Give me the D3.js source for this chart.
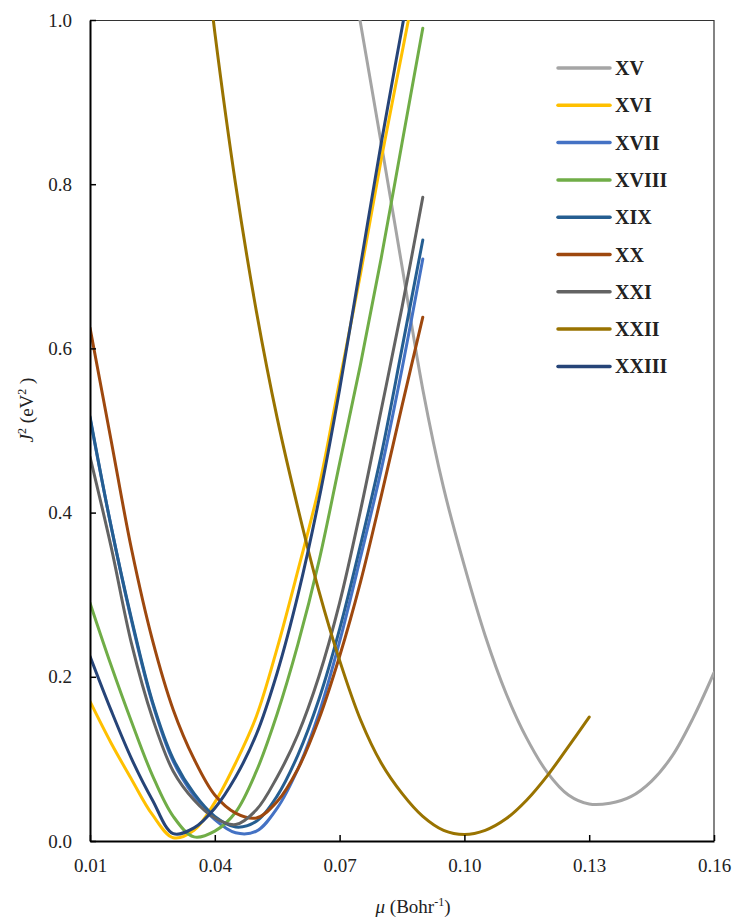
<!DOCTYPE html>
<meta charset="utf-8">
<script src="https://d3js.org/d3.v7.min.js"></script>
<style>
  body { margin: 0; background: #fff; }
  svg text { font-family: "Liberation Serif", "DejaVu Serif", serif; fill: #222; }
</style>
<div id="chart"></div>
<script>
// mu grid shared by XVI..XXI and XXIII
var muGrid = [0.01, 0.015, 0.02, 0.025, 0.03, 0.035, 0.04, 0.045, 0.05, 0.055,
              0.06, 0.065, 0.07, 0.075, 0.08, 0.085, 0.09];
var muXV = [0.07, 0.075, 0.08, 0.085, 0.09, 0.095, 0.10, 0.105, 0.11, 0.115,
            0.12, 0.125, 0.13, 0.135, 0.14, 0.145, 0.15, 0.155, 0.16];
var muXXII = [0.035, 0.04, 0.045, 0.05, 0.055, 0.06, 0.065, 0.07, 0.075, 0.08,
              0.085, 0.09, 0.095, 0.10, 0.105, 0.11, 0.115, 0.12, 0.125, 0.13];

var jXV    = [1.145, 0.997, 0.85, 0.70, 0.55, 0.43, 0.335, 0.25, 0.18, 0.125,
              0.083, 0.056, 0.045, 0.046, 0.054, 0.073, 0.104, 0.15, 0.205];
var jXVI   = [0.17, 0.12, 0.075, 0.032, 0.004, 0.013, 0.047, 0.095, 0.152, 0.235,
              0.33, 0.43, 0.56, 0.69, 0.83, 0.96, 1.09];
var jXVII  = [0.515, 0.385, 0.268, 0.168, 0.097, 0.055, 0.026, 0.01, 0.012, 0.04,
              0.088, 0.155, 0.243, 0.345, 0.452, 0.575, 0.709];
var jXVIII = [0.29, 0.215, 0.145, 0.08, 0.03, 0.005, 0.012, 0.035, 0.085, 0.155,
              0.24, 0.34, 0.46, 0.58, 0.71, 0.85, 0.99];
var jXIX   = [0.517, 0.385, 0.27, 0.17, 0.10, 0.058, 0.03, 0.017, 0.024, 0.055,
              0.105, 0.172, 0.258, 0.36, 0.47, 0.60, 0.732];
var jXX    = [0.625, 0.49, 0.355, 0.245, 0.16, 0.10, 0.056, 0.034, 0.028, 0.048,
              0.088, 0.148, 0.225, 0.315, 0.42, 0.53, 0.638];
var jXXI   = [0.468, 0.36, 0.24, 0.15, 0.085, 0.05, 0.028, 0.02, 0.038, 0.078,
              0.13, 0.2, 0.29, 0.402, 0.525, 0.65, 0.784];
var jXXII  = [1.2, 0.985, 0.80, 0.645, 0.515, 0.405, 0.305, 0.22, 0.148, 0.095,
              0.058, 0.03, 0.013, 0.008, 0.013, 0.027, 0.05, 0.08, 0.115, 0.151];
var jXXIII = [0.225, 0.16, 0.10, 0.05, 0.009, 0.016, 0.04, 0.078, 0.13, 0.205,
              0.30, 0.415, 0.55, 0.70, 0.85, 0.99, 1.13];

var names  = ["XV", "XVI", "XVII", "XVIII", "XIX", "XX", "XXI", "XXII", "XXIII"];
var colors = ["#A5A5A5", "#FFC000", "#4472C4", "#70AD47", "#255E91", "#9E480E", "#636363", "#997300", "#264478"];
var xTicks = [0.01, 0.04, 0.07, 0.10, 0.13, 0.16];
var yTicks = [0, 0.2, 0.4, 0.6, 0.8, 1.0];

var seriesX = [muXV, muGrid, muGrid, muGrid, muGrid, muGrid, muGrid, muXXII, muGrid];
var seriesY = [jXV, jXVI, jXVII, jXVIII, jXIX, jXX, jXXI, jXXII, jXXIII];

var W = 735, H = 920;
var margin = { top: 20, right: 21, bottom: 79, left: 90 };
var width = W - margin.left - margin.right,
    height = H - margin.top - margin.bottom;
var serif = "'Liberation Serif', 'DejaVu Serif', serif";

var svg = d3.select("#chart").append("svg")
    .attr("width", W).attr("height", H);
var g = svg.append("g")
    .attr("transform", "translate(" + margin.left + "," + margin.top + ")");

var x = d3.scaleLinear().domain([0.01, 0.16]).range([0, width]);
var y = d3.scaleLinear().domain([0, 1]).range([height, 0]);

g.append("clipPath").attr("id", "plotclip")
  .append("rect").attr("x", 0).attr("y", 0).attr("width", width).attr("height", height);

// top and right frame
g.append("path")
  .attr("d", "M0,0.5H" + width + "V" + height)
  .attr("fill", "none").attr("stroke", "#333").attr("stroke-width", 1.2);

var line = d3.line()
  .x(function(d) { return x(d[0]); })
  .y(function(d) { return y(d[1]); })
  .curve(d3.curveCatmullRom.alpha(0.5));

var lines = g.append("g").attr("clip-path", "url(#plotclip)");
names.forEach(function(n, i) {
  var pts = d3.zip(seriesX[i], seriesY[i]);
  lines.append("path")
    .attr("d", line(pts))
    .attr("fill", "none")
    .attr("stroke", colors[i])
    .attr("stroke-width", 3)
    .attr("stroke-linecap", "round")
    .attr("stroke-linejoin", "round");
});

// axes
var xAxis = g.append("g")
  .attr("transform", "translate(0," + height + ")")
  .call(d3.axisBottom(x).tickValues(xTicks).tickFormat(d3.format(".2f"))
        .tickSizeInner(-6).tickSizeOuter(0).tickPadding(18));
var yAxis = g.append("g")
  .call(d3.axisLeft(y).tickValues(yTicks).tickFormat(d3.format(".1f"))
        .tickSizeInner(-6).tickSizeOuter(0).tickPadding(18));
[xAxis, yAxis].forEach(function(a) {
  a.attr("font-family", serif).attr("font-size", 19);
  a.select(".domain").attr("stroke", "#000").attr("stroke-width", 2);
  a.selectAll(".tick line").attr("stroke", "#000").attr("stroke-width", 1.5);
  a.selectAll(".tick text").attr("fill", "#222");
});

// axis titles
var xt = svg.append("text")
  .attr("x", 413).attr("y", 913).attr("text-anchor", "middle").attr("font-size", 19);
xt.append("tspan").attr("font-style", "italic").text("μ");
xt.append("tspan").text(" (Bohr");
xt.append("tspan").attr("font-size", 12).attr("dy", -7).text("-1");
xt.append("tspan").attr("dy", 7).text(")");

var yt = svg.append("text")
  .attr("transform", "translate(33,410) rotate(-90)")
  .attr("text-anchor", "middle").attr("font-size", 19);
yt.append("tspan").attr("font-style", "italic").text("J");
yt.append("tspan").attr("font-size", 12).attr("dy", -7).text("2");
yt.append("tspan").attr("dy", 7).text(" (eV");
yt.append("tspan").attr("font-size", 12).attr("dy", -7).text("2");
yt.append("tspan").attr("dy", 7).text(" )");

// legend
var leg = svg.append("g");
names.forEach(function(n, i) {
  var yy = 68 + i * 37.3;
  leg.append("line")
    .attr("x1", 558).attr("x2", 610).attr("y1", yy).attr("y2", yy)
    .attr("stroke", colors[i]).attr("stroke-width", 3.5).attr("stroke-linecap", "round");
  leg.append("text")
    .attr("x", 615).attr("y", yy).attr("dy", "0.35em")
    .attr("font-size", 20).attr("font-weight", "bold").attr("fill", "#111")
    .text(n);
});
</script>
